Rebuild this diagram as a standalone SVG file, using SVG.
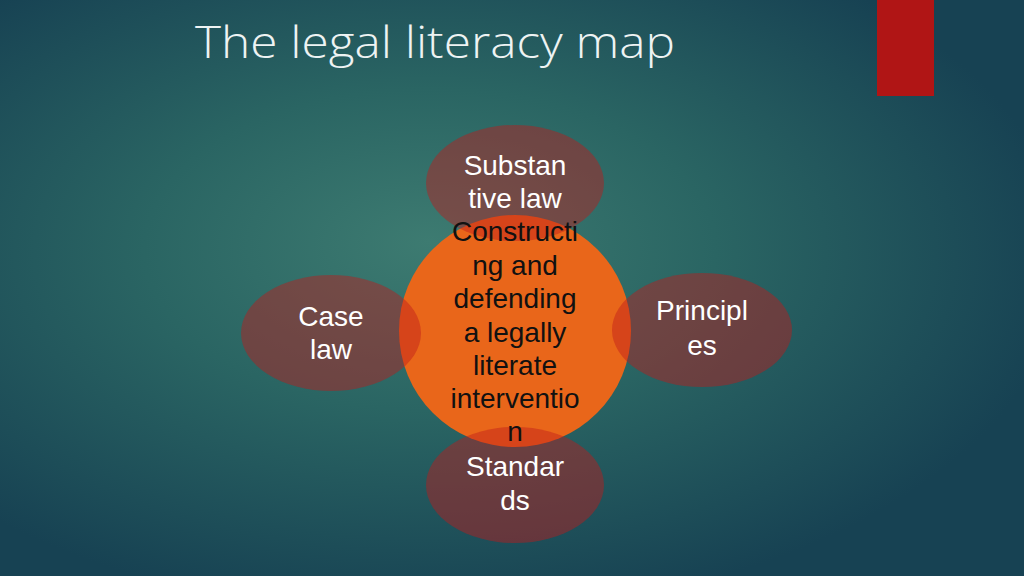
<svg xmlns="http://www.w3.org/2000/svg" width="1024" height="576" viewBox="0 0 1024 576">
<defs>
<radialGradient id="bg" cx="0.42" cy="0.45" r="0.62" fx="0.42" fy="0.42">
<stop offset="0" stop-color="#3D7B71"/>
<stop offset="0.45" stop-color="#2A6563"/>
<stop offset="1" stop-color="#174253"/>
</radialGradient>
<style>
.sat{fill:#BE1A1A;fill-opacity:0.45}
.hub{fill:#E9661A}
.wt{font-family:"Liberation Sans","Open Sans",sans-serif;font-size:28px;fill:#FFFFFF;text-anchor:middle}
.bt{font-family:"Liberation Sans","Open Sans",sans-serif;font-size:28px;fill:#111111;text-anchor:middle}
.title{font-family:"Open Sans","Noto Sans","Liberation Sans",sans-serif;font-weight:300;font-size:44px;fill:#EEF3F3}
</style>
</defs>
<rect width="1024" height="576" fill="url(#bg)"/>
<rect x="877" y="0" width="57" height="96" fill="#B01515"/>
<text class="title" x="195" y="58" textLength="480" lengthAdjust="spacingAndGlyphs">The legal literacy map</text>
<g id="hub"><circle class="hub" cx="515" cy="331" r="116"/></g>
<g id="top"><ellipse class="sat" cx="515" cy="183" rx="89" ry="58"/></g>
<g id="left"><ellipse class="sat" cx="331" cy="333" rx="90" ry="58"/></g>
<g id="right"><ellipse class="sat" cx="702" cy="330" rx="90" ry="57"/></g>
<g id="bottom"><ellipse class="sat" cx="515" cy="485" rx="89" ry="58"/></g>
<g id="connectors"></g>
<g id="labels">
<text class="wt" x="515" y="175">Substan</text>
<text class="wt" x="515" y="208">tive law</text>
<text class="bt" x="515" y="241">Constructi</text>
<text class="bt" x="515" y="275">ng and</text>
<text class="bt" x="515" y="308">defending</text>
<text class="bt" x="515" y="342">a legally</text>
<text class="bt" x="515" y="375">literate</text>
<text class="bt" x="515" y="408">interventio</text>
<text class="bt" x="515" y="441">n</text>
<text class="wt" x="515" y="476">Standar</text>
<text class="wt" x="515" y="510">ds</text>
<text class="wt" x="331" y="326">Case</text>
<text class="wt" x="331" y="359">law</text>
<text class="wt" x="702" y="320">Principl</text>
<text class="wt" x="702" y="355">es</text>
</g>
</svg>
